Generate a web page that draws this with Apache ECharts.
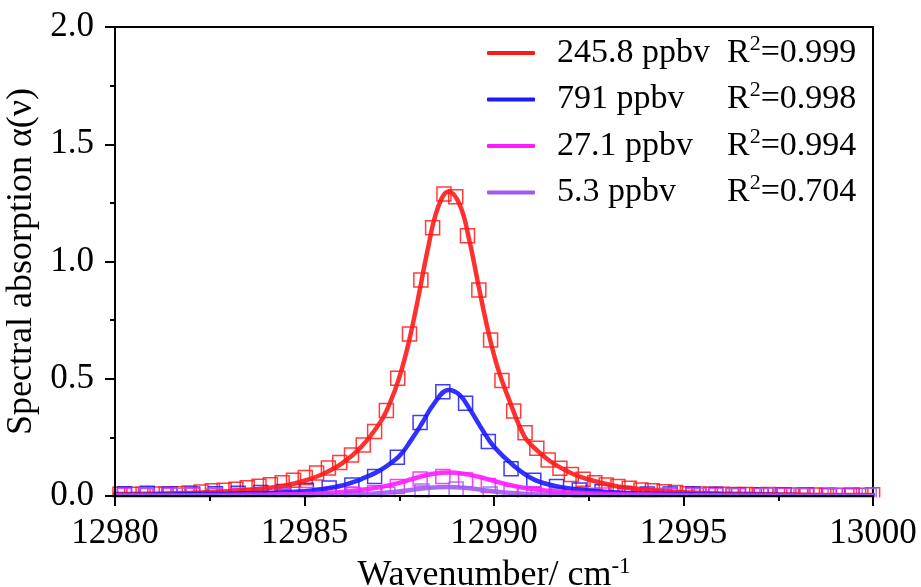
<!DOCTYPE html>
<html>
<head>
<meta charset="utf-8">
<script src="https://cdn.jsdelivr.net/npm/echarts@6/dist/echarts.min.js"></script>
<style>html,body{margin:0;padding:0;background:#fff;}#c{width:921px;height:587px;}</style>
</head>
<body>
<div id="c"></div>
<script>
// ---- data ----
const seriesNames = ['245.8 ppbv', '791 ppbv', '27.1 ppbv', '5.3 ppbv'];
const r2Values = ['0.999', '0.998', '0.994', '0.704'];
const colors = ['#ff1a1a', '#1a1aff', '#ff1aff', '#a05af0'];
const xTickLabels = ['12980', '12985', '12990', '12995', '13000'];
const yTickLabels = ['0.0', '0.5', '1.0', '1.5', '2.0'];

// measured points (squares)
const redX = [12980.13,12980.44,12980.74,12981.05,12981.35,12981.66,12981.96,12982.27,12982.57,12982.88,
  12983.19,12983.49,12983.80,12984.10,12984.41,12984.71,12985.02,12985.32,12985.63,12985.93,
  12986.24,12986.55,12986.85,12987.16,12987.46,12987.77,12988.07,12988.38,12988.68,12988.99,
  12989.30,12989.60,12989.91,12990.21,12990.52,12990.82,12991.13,12991.43,12991.74,12992.04,
  12992.35,12992.66,12992.96,12993.27,12993.57,12993.88,12994.18,12994.49,12994.79,12995.10,
  12995.41,12995.71,12996.02,12996.32,12996.63,12996.93,12997.24,12997.54,12997.85,12998.15,
  12998.46,12998.77,12999.07,12999.38,12999.68,12999.99];
const redY = [0.007,0.007,0.007,0.008,0.008,0.010,0.013,0.017,0.022,0.025,
  0.029,0.035,0.042,0.048,0.056,0.067,0.079,0.098,0.119,0.143,
  0.175,0.218,0.275,0.365,0.502,0.691,0.921,1.144,1.288,1.276,
  1.110,0.878,0.665,0.493,0.362,0.270,0.204,0.154,0.118,0.092,
  0.071,0.057,0.047,0.040,0.033,0.026,0.022,0.018,0.015,0.010,
  0.008,0.007,0.007,0.006,0.006,0.005,0.006,0.005,0.004,0.004,
  0.004,0.003,0.003,0.002,0.003,0.005];

const gridX = [12980.25,12980.85,12981.45,12982.05,12982.65,12983.25,12983.85,12984.45,12985.05,12985.65,
  12986.25,12986.85,12987.45,12988.05,12988.65,12989.25,12989.85,12990.45,12991.05,12991.65,
  12992.25,12992.85,12993.45,12994.05,12994.65,12995.25,12995.85,12996.45,12997.05,12997.65,
  12998.25,12998.85,12999.45];
const blueY = [0.010,0.012,0.009,0.009,0.010,0.012,0.015,0.019,0.025,0.034,
  0.047,0.083,0.165,0.313,0.445,0.395,0.232,0.116,0.067,0.040,
  0.026,0.018,0.011,0.009,0.009,0.008,0.007,0.004,0.005,0.005,
  0.004,0.002,0.003];
const magentaY = [0.003,0.002,0.003,0.003,0.004,0.003,0.004,0.005,0.006,0.006,
  0.008,0.014,0.040,0.073,0.083,0.068,0.045,0.013,0.008,0.006,
  0.005,0.004,0.004,0.003,0.003,0.002,0.003,0.002,0.002,0.003,
  0.002,0.002,0.002];
const purpleX = [12980.8,12981.7,12982.6,12983.5,12984.4,12985.4,12986.3,12987.2,12988.1,12989.0,
  12989.9,12990.8,12991.7,12992.6,12993.5,12994.5,12995.4,12996.3,12997.2,12998.1,12999.0,12999.9];
const purpleY = [0.004,0.003,0.002,0.003,0.002,0.003,0.005,0.007,0.021,0.030,
  0.008,0.006,0.004,0.003,0.002,0.003,0.002,0.002,0.003,0.002,0.002,0.002];

// fitted curves
const redFitX = [12980,12981,12982,12983,12984,12984.5,12985,12985.5,12986,12986.5,12987,12987.25,12987.5,12987.75,
  12988,12988.25,12988.5,12988.8,12989.1,12989.35,12989.6,12989.85,12990.1,12990.4,12990.8,12991.1,12991.5,
  12992,12992.4,12993.2,12994.1,12995,12996,12997,12998,12999,13000];
const redFitY = [0.008,0.010,0.014,0.020,0.033,0.045,0.065,0.095,0.140,0.210,0.315,0.395,0.505,0.655,
  0.845,1.050,1.220,1.298,1.240,1.090,0.890,0.700,0.545,0.410,0.255,0.200,0.146,
  0.100,0.075,0.043,0.026,0.016,0.011,0.008,0.006,0.004,0.004];
const blueFitX = [12980,12981,12982,12983,12984,12985,12985.5,12986,12986.3,12986.5,12987,12987.5,12987.8,12988.1,
  12988.4,12988.8,12989.1,12989.4,12989.7,12990,12990.5,12991,12991.5,12992,12993,12994,12995,12996,12998,13000];
const blueFitY = [0.005,0.006,0.008,0.010,0.014,0.020,0.030,0.045,0.060,0.072,0.110,0.170,0.235,0.310,
  0.390,0.452,0.430,0.360,0.280,0.210,0.132,0.075,0.047,0.032,0.017,0.011,0.008,0.006,0.004,0.003];
const magentaFitX = [12980,12982,12984,12985,12985.5,12986,12986.5,12987,12987.5,12988,12988.4,12988.8,12989.2,
  12989.6,12990,12990.5,12991,12991.5,12992,12993,12994,12996,13000];
const magentaFitY = [0.002,0.003,0.006,0.009,0.012,0.017,0.026,0.038,0.056,0.080,0.095,0.100,0.095,
  0.082,0.064,0.044,0.030,0.021,0.015,0.009,0.006,0.003,0.001];
const purpleFitX = [12980,12984,12985.5,12986.5,12987.2,12987.8,12988.3,12988.75,12989.2,12989.7,12990.3,12991,12992,12994,13000];
const purpleFitY = [0.001,0.002,0.004,0.008,0.015,0.026,0.035,0.038,0.035,0.026,0.015,0.008,0.004,0.002,0.001];

function pairs(xs, ys) { return xs.map((x, i) => [x, ys[i]]); }

const FONT = "'Liberation Serif', 'Times New Roman', serif";
const scatterSets = [pairs(redX, redY), pairs(gridX, blueY), pairs(gridX, magentaY), pairs(purpleX, purpleY)];
const fitSets = [pairs(redFitX, redFitY), pairs(blueFitX, blueFitY), pairs(magentaFitX, magentaFitY), pairs(purpleFitX, purpleFitY)];

const series = [];
scatterSets.forEach((d, i) => {
  series.push({
    name: 'pts' + i, type: 'scatter', data: d, symbol: 'rect', symbolSize: 14, z: 2,
    itemStyle: { color: 'rgba(0,0,0,0)', borderColor: colors[i], borderWidth: 1.5, opacity: 0.85 },
    emphasis: { disabled: true }
  });
});
fitSets.forEach((d, i) => {
  series.push({
    name: seriesNames[i], type: 'line', data: d, smooth: 0.4, showSymbol: false, z: 3,
    lineStyle: { color: colors[i], width: 4.5, opacity: 0.9, cap: 'round' },
    itemStyle: { color: colors[i] },
    emphasis: { disabled: true }
  });
});

const chart = echarts.init(document.getElementById('c'), null, { renderer: 'canvas' });
chart.setOption({
  animation: false,
  backgroundColor: '#fff',
  grid: { left: 115, right: 48, top: 27, bottom: 91, show: true, borderColor: '#000', borderWidth: 2,
    containLabel: false, outerBoundsMode: 'none' },
  xAxis: {
    type: 'value', min: 12980, max: 13000, interval: 5, z: 150,
    name: '{t|Wavenumber/ cm}{s|-1}', nameLocation: 'middle', nameGap: 56,
    nameTextStyle: { rich: {
      t: { fontFamily: FONT, fontSize: 36, color: '#000', lineHeight: 40, verticalAlign: 'middle' },
      s: { fontFamily: FONT, fontSize: 23, color: '#000', lineHeight: 23, verticalAlign: 'top' } } },
    axisLine: { lineStyle: { color: '#000', width: 2 } },
    axisTick: { inside: false, length: 10, lineStyle: { color: '#000', width: 2 } },
    minorTick: { show: true, splitNumber: 2, length: 5, lineStyle: { color: '#000', width: 2 } },
    splitLine: { show: false },
    axisLabel: { fontFamily: FONT, fontSize: 35, color: '#000', margin: 20,
      formatter: v => xTickLabels[Math.round((v - 12980) / 5)] }
  },
  yAxis: {
    type: 'value', min: 0, max: 2, interval: 0.5, z: 150,
    name: 'Spectral absorption α(ν)', nameLocation: 'middle', nameGap: 60,
    nameTextStyle: { fontFamily: FONT, fontSize: 36, color: '#000' },
    axisLine: { lineStyle: { color: '#000', width: 2 } },
    axisTick: { inside: false, length: 10, lineStyle: { color: '#000', width: 2 } },
    minorTick: { show: true, splitNumber: 2, length: 5, lineStyle: { color: '#000', width: 2 } },
    splitLine: { show: false },
    axisLabel: { fontFamily: FONT, fontSize: 35, color: '#000', margin: 21,
      formatter: v => yTickLabels[Math.round(v / 0.5)] }
  },
  legend: {
    data: seriesNames, orient: 'vertical', left: 482, top: 28, itemWidth: 48, itemHeight: 4,
    icon: 'roundRect', itemGap: 9.5, selectedMode: false,
    formatter: name => '{a|' + name + '}{b|R}{s|2}{b|=' + r2Values[seriesNames.indexOf(name)] + '}',
    textStyle: { fontFamily: FONT, fontSize: 34, color: '#000', padding: [0, 0, 0, 17], rich: {
      a: { fontFamily: FONT, fontSize: 34, color: '#000', width: 170, lineHeight: 40, verticalAlign: 'middle' },
      b: { fontFamily: FONT, fontSize: 34, color: '#000', lineHeight: 40, verticalAlign: 'middle' },
      s: { fontFamily: FONT, fontSize: 22, color: '#000', lineHeight: 22, verticalAlign: 'top' } } }
  },
  graphic: [{ type: 'rect', z: 100, silent: true, shape: { x: 100, y: 497.5, width: 790, height: 10 }, style: { fill: '#fff' } }],
  series: series
});
</script>
</body>
</html>
